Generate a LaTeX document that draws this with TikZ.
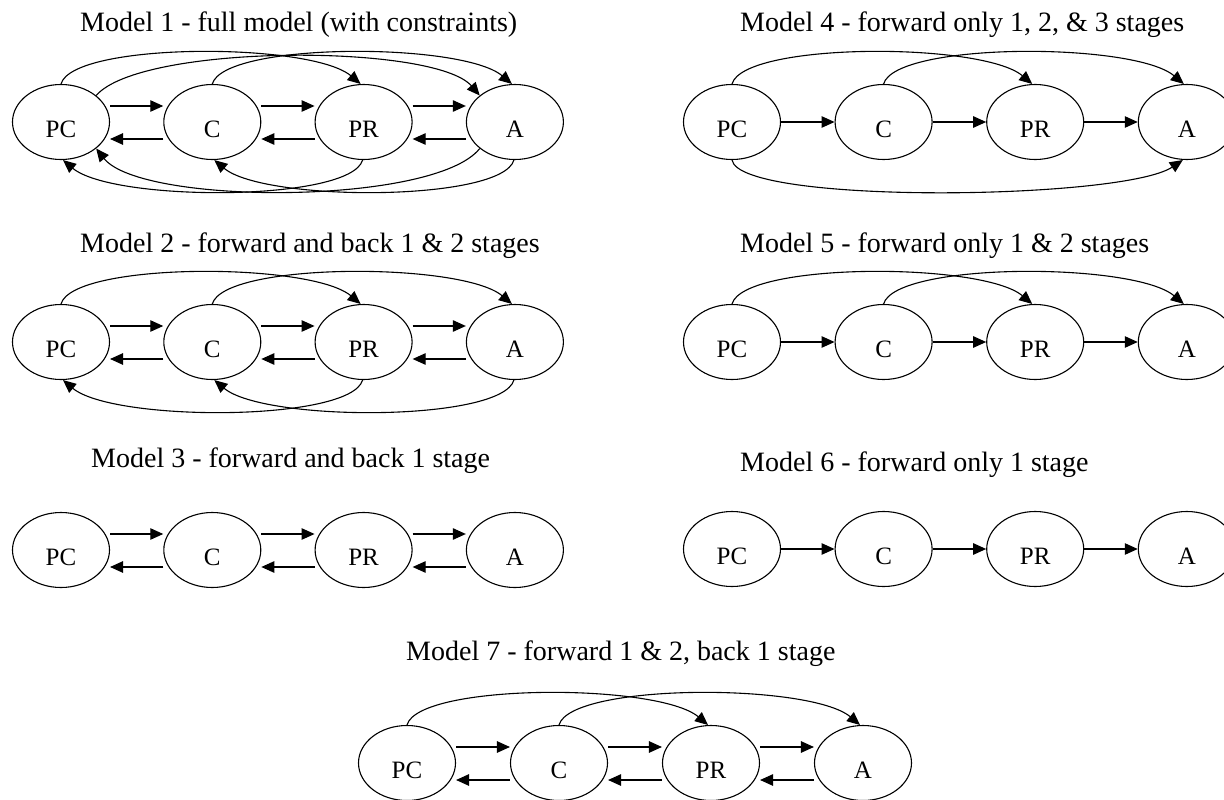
\documentclass[tikz,border=0pt]{standalone}
\usepackage{fontspec}
\setmainfont{Liberation Serif}
\usetikzlibrary{arrows.meta,shapes.geometric}
\tikzset{
  st/.style={ellipse, draw, line width=1.1pt, minimum width=97pt, minimum height=75pt,
    inner sep=0pt, text height=31pt, text depth=0pt, font=\fontsize{25}{25}\selectfont},
  arr/.style={line width=1.1pt, -{Triangle[length=13pt,width=11.5pt]}},
  ttl/.style={anchor=base west, inner sep=0pt, font=\fontsize{28}{28}\selectfont},
}
\newcommand{\mkrow}[4]{%
  \node[st] (#1pc) at (#2,#3) {PC};
  \node[st] (#1c)  at ({#2+#4},#3) {C};
  \node[st] (#1pr) at ({#2+2*#4},#3) {PR};
  \node[st] (#1a)  at ({#2+3*#4},#3) {A};}
\newcommand{\mdlfwd}[2]{\draw[arr] ([yshift=16pt]#1.east) -- ([yshift=16pt]#2.west);}
\newcommand{\mdlbck}[2]{\draw[arr] ([yshift=-17pt]#1.west) -- ([yshift=-17pt]#2.east);}
\newcommand{\mdlfwdc}[2]{\draw[arr] (#1.east) -- (#2.west);}
\newcommand{\mdltop}[2]{\draw[arr] (#1.north) .. controls +(12,-42) and +(-50,-42) .. ([xshift=-3pt]#2.north);}
\newcommand{\mdlbot}[2]{\draw[arr] ([xshift=-1pt]#1.south) .. controls +(-12,42) and +(50,42) .. ([xshift=2pt]#2.south);}
\begin{document}
\begin{tikzpicture}[x=1pt,y=-1pt]
\useasboundingbox (0,0) rectangle (1224,800);
\clip (0,0) rectangle (1224,800);
% titles
\node[ttl] (t1) at (80,32) {Model 1 - full model (with constraints)};
\node[ttl] (t2) at (80,252.7) {Model 2 - forward and back 1 \& 2 stages};
\node[ttl] (t3) at (91,467) {Model 3 - forward and back 1 stage};
\node[ttl] (t4) at (740,32) {Model 4 - forward only 1, 2, \& 3 stages};
\node[ttl] (t5) at (740,252.7) {Model 5 - forward only 1 \& 2 stages};
\node[ttl] (t6) at (740,471.7) {Model 6 - forward only 1 stage};
\node[ttl] (t7) at (406,660) {Model 7 - forward 1 \& 2, back 1 stage};
% rows
\mkrow{ma}{61}{122}{151.3}
\mkrow{mb}{61}{342}{151.3}
\mkrow{mc}{61}{550}{151.3}
\mkrow{md}{732}{122}{151.6}
\mkrow{me}{732}{342}{151.6}
\mkrow{mf}{732}{549}{151.6}
\mkrow{mg}{407}{763}{152}
% Model 1
\mdlfwd{mapc}{mac}\mdlfwd{mac}{mapr}\mdlfwd{mapr}{maa}
\mdlbck{mac}{mapc}\mdlbck{mapr}{mac}\mdlbck{maa}{mapr}
\mdltop{mapc}{mapr}\mdltop{mac}{maa}
\draw[arr] (mapc.37) .. controls +(45,-52) and +(-45,-52) .. (maa.143);
\mdlbot{mapr}{mapc}\mdlbot{maa}{mac}
\draw[arr] (maa.-143) .. controls +(-45,57) and +(45,57) .. (mapc.-37);
% Model 2
\mdlfwd{mbpc}{mbc}\mdlfwd{mbc}{mbpr}\mdlfwd{mbpr}{mba}
\mdlbck{mbc}{mbpc}\mdlbck{mbpr}{mbc}\mdlbck{mba}{mbpr}
\mdltop{mbpc}{mbpr}\mdltop{mbc}{mba}
\mdlbot{mbpr}{mbpc}\mdlbot{mba}{mbc}
% Model 3
\mdlfwd{mcpc}{mcc}\mdlfwd{mcc}{mcpr}\mdlfwd{mcpr}{mca}
\mdlbck{mcc}{mcpc}\mdlbck{mcpr}{mcc}\mdlbck{mca}{mcpr}
% Model 4
\mdlfwdc{mdpc}{mdc}\mdlfwdc{mdc}{mdpr}\mdlfwdc{mdpr}{mda}
\mdltop{mdpc}{mdpr}\mdltop{mdc}{mda}
\draw[arr] (mdpc.south) .. controls +(8,45) and +(-60,40) .. ([xshift=-4pt]mda.south);
% Model 5
\mdlfwdc{mepc}{mec}\mdlfwdc{mec}{mepr}\mdlfwdc{mepr}{mea}
\mdltop{mepc}{mepr}\mdltop{mec}{mea}
% Model 6
\mdlfwdc{mfpc}{mfc}\mdlfwdc{mfc}{mfpr}\mdlfwdc{mfpr}{mfa}
% Model 7
\mdlfwd{mgpc}{mgc}\mdlfwd{mgc}{mgpr}\mdlfwd{mgpr}{mga}
\mdlbck{mgc}{mgpc}\mdlbck{mgpr}{mgc}\mdlbck{mga}{mgpr}
\mdltop{mgpc}{mgpr}\mdltop{mgc}{mga}
\end{tikzpicture}
\end{document}
